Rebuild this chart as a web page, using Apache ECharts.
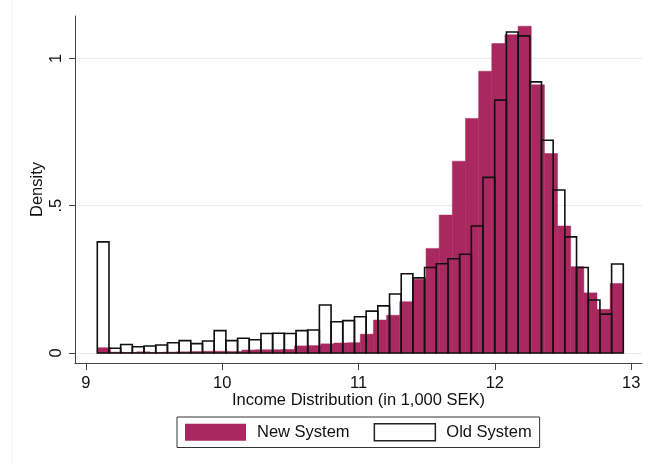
<!DOCTYPE html>
<html>
<head>
<meta charset="utf-8">
<script src="https://cdn.jsdelivr.net/npm/echarts@6/dist/echarts.min.js"></script>
<style>
html,body{margin:0;padding:0;background:#fff;}
#chart{width:651px;height:464px;}
</style>
</head>
<body>
<div id="chart"></div>
<script>
// Histogram bins (log income), shared range
const binLow = 9.0843;
const binHigh = 12.942;
// New System: 40 bins
const newSystem = [0.018, 0.003, 0.002, 0.004, 0.002, 0.003, 0.004, 0.005, 0.006, 0.006,
  0.005, 0.010, 0.011, 0.011, 0.012, 0.024, 0.025, 0.031, 0.034, 0.035,
  0.064, 0.112, 0.128, 0.174, 0.250, 0.355, 0.468, 0.651, 0.796, 0.956,
  1.050, 1.080, 1.109, 0.910, 0.677, 0.431, 0.293, 0.204, 0.148, 0.236];
// Old System: 45 bins
const oldSystem = [0.377, 0.016, 0.029, 0.021, 0.024, 0.027, 0.035, 0.042, 0.032, 0.041,
  0.076, 0.042, 0.050, 0.045, 0.066, 0.067, 0.066, 0.076, 0.078, 0.163,
  0.106, 0.110, 0.123, 0.142, 0.160, 0.200, 0.269, 0.255, 0.290, 0.303,
  0.320, 0.335, 0.431, 0.596, 0.858, 1.089, 1.076, 0.920, 0.722, 0.553,
  0.394, 0.290, 0.180, 0.132, 0.302];
const xTicks = [9, 10, 11, 12, 13];
const yTicks = [0, 0.5, 1];
const yTickLabels = ['0', '.5', '1'];
const seriesNames = ['New System', 'Old System'];

function toBins(vals) {
  const w = (binHigh - binLow) / vals.length;
  return vals.map((v, i) => [binLow + i * w, binLow + (i + 1) * w, v]);
}

const pink = '#a8285f';
const font = 'Liberation Sans, Arial, sans-serif';
const fs = 16.5;

function barRenderer(style) {
  return function (params, api) {
    const p0 = api.coord([api.value(0), api.value(2)]);
    const p1 = api.coord([api.value(1), 0]);
    return {
      type: 'rect',
      shape: { x: p0[0], y: p0[1], width: p1[0] - p0[0], height: p1[1] - p0[1] },
      style: style
    };
  };
}

const chart = echarts.init(document.getElementById('chart'), null, { renderer: 'canvas' });
chart.setOption({
  animation: false,
  backgroundColor: '#fff',
  textStyle: { fontFamily: font },
  grid: { left: 75, right: 9, top: 16, bottom: 101, containLabel: false },
  xAxis: {
    type: 'value',
    min: 8.9208, max: 13.0792,
    name: 'Income Distribution (in 1,000 SEK)',
    nameLocation: 'middle',
    nameGap: 29,
    nameMoveOverlap: false,
    nameTextStyle: { fontSize: fs, color: '#111', fontFamily: font },
    axisLine: { show: true, onZero: false, lineStyle: { color: '#444', width: 1 } },
    axisTick: { show: true, length: 7, lineStyle: { color: '#444' }, customValues: xTicks },
    axisLabel: { fontSize: fs, color: '#111', margin: 12, fontFamily: font, customValues: xTicks,
      formatter: v => String(v) },
    splitLine: { show: false }
  },
  yAxis: {
    type: 'value',
    min: -0.0339, max: 1.1435,
    name: 'Density',
    nameLocation: 'middle',
    nameGap: 29,
    nameMoveOverlap: false,
    nameTextStyle: { fontSize: fs, color: '#111', fontFamily: font },
    axisLine: { show: true, onZero: false, lineStyle: { color: '#444', width: 1 } },
    axisTick: { show: true, length: 6, lineStyle: { color: '#444' }, customValues: yTicks },
    axisLabel: { fontSize: fs, color: '#111', margin: 10, rotate: 90, fontFamily: font,
      customValues: yTicks,
      formatter: v => yTickLabels[yTicks.indexOf(v)] },
    splitLine: { show: true, lineStyle: { color: '#e3eded', width: 1 } }
  },
  legend: {
    left: 177, top: 417,
    padding: [6, 8, 6, 8],
    borderColor: '#333', borderWidth: 1,
    itemWidth: 61, itemHeight: 17, itemGap: 24,
    textStyle: { fontSize: fs, color: '#111', fontFamily: font, padding: [0, 0, 0, 6] },
    data: [
      { name: seriesNames[0], icon: 'rect', itemStyle: { color: pink, borderWidth: 0 } },
      { name: seriesNames[1], icon: 'rect', itemStyle: { color: '#fff', borderColor: '#222', borderWidth: 1.5 } }
    ]
  },
  graphic: [
    { type: 'line', shape: { x1: 12, y1: 0, x2: 12, y2: 464 }, style: { stroke: '#f2f2f2', lineWidth: 1 }, silent: true }
  ],
  series: [
    {
      name: seriesNames[0],
      type: 'custom',
      renderItem: barRenderer({ fill: pink, stroke: pink, lineWidth: 0.5 }),
      itemStyle: { color: pink },
      encode: { x: [0, 1], y: 2 },
      data: toBins(newSystem),
      z: 2
    },
    {
      name: seriesNames[1],
      type: 'custom',
      renderItem: barRenderer({ fill: 'none', stroke: '#111', lineWidth: 1.6 }),
      itemStyle: { color: '#fff', borderColor: '#222', borderWidth: 1.5 },
      encode: { x: [0, 1], y: 2 },
      data: toBins(oldSystem),
      z: 3
    }
  ]
});
</script>
</body>
</html>
